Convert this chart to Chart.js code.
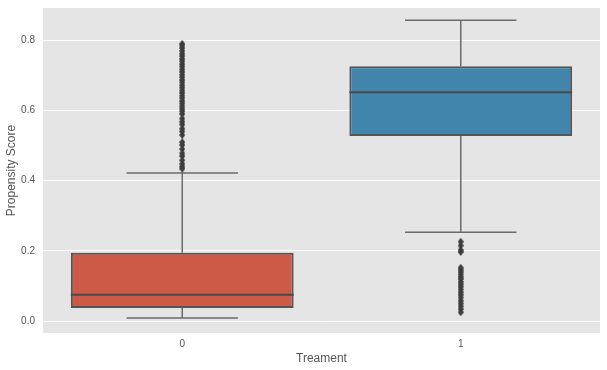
<!DOCTYPE html>
<html>
<head>
<meta charset="utf-8">
<script src="https://cdn.jsdelivr.net/npm/chart.js@4.4.0/dist/chart.umd.min.js"></script>
<style>
  html, body { margin: 0; padding: 0; background: #fff; }
  #wrap { width: 607px; height: 370px; }
</style>
</head>
<body>
<div id="wrap"><canvas id="chartBox"></canvas></div>
<script>
// Categories and box statistics
const categories = ['0', '1'];
const q1 = [0.037, 0.527];
const median = [0.075, 0.652];
const q3 = [0.195, 0.726];
const whiskerLow = [0.009, 0.253];
const whiskerHigh = [0.422, 0.857];
const boxColors = ['#cc5a47', '#4185ac'];

// Outliers per category
const outliers0 = [0.79, 0.785, 0.778, 0.77, 0.762, 0.755, 0.747, 0.74, 0.732, 0.725, 0.717,
  0.71, 0.702, 0.695, 0.687, 0.68, 0.672, 0.665, 0.657, 0.65, 0.642, 0.635, 0.627, 0.62,
  0.612, 0.605, 0.598, 0.59, 0.577, 0.568, 0.56, 0.548, 0.54, 0.53, 0.51, 0.502, 0.49,
  0.478, 0.47, 0.458, 0.448, 0.44, 0.434];
const outliers1 = [0.226, 0.215, 0.202, 0.197, 0.152, 0.146, 0.14, 0.133, 0.126, 0.12,
  0.112, 0.105, 0.098, 0.09, 0.082, 0.075, 0.067, 0.058, 0.05, 0.042, 0.034, 0.025];

const yTicks = [0.0, 0.2, 0.4, 0.6, 0.8];

const lineColor = '#4a4a4a';
const whiskerColor = '#6b6b6b';

// thin diamond marker like matplotlib 'd'
function makeDiamond() {
    const c = document.createElement('canvas');
    c.width = 6; c.height = 8;
    const g = c.getContext('2d');
    g.fillStyle = '#3d3d3d';
    g.beginPath();
    g.moveTo(3, 0);
    g.lineTo(6, 4);
    g.lineTo(3, 8);
    g.lineTo(0, 4);
    g.closePath();
    g.fill();
    return c;
}

// whiskers and median lines drawn with the chart's scales
const boxExtras = {
    id: 'boxExtras',
    beforeDatasetsDraw(chart) {
        const ctx = chart.ctx;
        const xs = chart.scales.x, ys = chart.scales.y;
        const meta = chart.getDatasetMeta(0);
        ctx.save();
        ctx.strokeStyle = whiskerColor;
        ctx.lineWidth = 1.5;
        categories.forEach((c, i) => {
            const bar = meta.data[i];
            const cx = xs.getPixelForValue(i);
            const half = bar.width / 4;
            const yLo = ys.getPixelForValue(whiskerLow[i]);
            const yHi = ys.getPixelForValue(whiskerHigh[i]);
            ctx.beginPath();
            ctx.moveTo(cx, ys.getPixelForValue(q1[i]));
            ctx.lineTo(cx, yLo);
            ctx.moveTo(cx, ys.getPixelForValue(q3[i]));
            ctx.lineTo(cx, yHi);
            ctx.moveTo(cx - half, yLo);
            ctx.lineTo(cx + half, yLo);
            ctx.moveTo(cx - half, yHi);
            ctx.lineTo(cx + half, yHi);
            ctx.stroke();
        });
        ctx.restore();
    },
    afterDatasetsDraw(chart) {
        const ctx = chart.ctx;
        const ys = chart.scales.y;
        const meta = chart.getDatasetMeta(0);
        ctx.save();
        ctx.strokeStyle = lineColor;
        ctx.lineWidth = 2;
        categories.forEach((c, i) => {
            const bar = meta.data[i];
            const y = ys.getPixelForValue(median[i]);
            ctx.beginPath();
            ctx.moveTo(bar.x - bar.width / 2, y);
            ctx.lineTo(bar.x + bar.width / 2, y);
            ctx.stroke();
        });
        ctx.restore();
    }
};

// plot background
const plotBg = {
    id: 'plotBg',
    beforeDraw(chart) {
        const { ctx, chartArea: a } = chart;
        ctx.save();
        ctx.fillStyle = '#e5e5e5';
        ctx.fillRect(a.left, a.top, a.right - a.left, a.bottom - a.top);
        ctx.restore();
    }
};

function initBoxChart() {
    const ctx = document.getElementById('chartBox');
    const diamond = makeDiamond();
    const fontFamily = '"Liberation Sans", Arial, sans-serif';

    new Chart(ctx, {
        data: {
            labels: categories,
            datasets: [{
                type: 'bar',
                data: categories.map((c, i) => [q1[i], q3[i]]),
                backgroundColor: boxColors,
                borderColor: '#555555',
                borderWidth: 2,
                borderSkipped: false,
                barPercentage: 0.8,
                categoryPercentage: 1.0,
                order: 2
            }, {
                type: 'line',
                data: outliers0.map(v => ({ x: categories[0], y: v }))
                    .concat(outliers1.map(v => ({ x: categories[1], y: v }))),
                showLine: false,
                pointStyle: diamond,
                pointRadius: 4,
                order: 1
            }]
        },
        options: {
            responsive: true,
            maintainAspectRatio: false,
            animation: false,
            layout: { padding: { top: 8, right: 7, left: 0, bottom: 0 } },
            plugins: {
                legend: { display: false },
                tooltip: { enabled: false }
            },
            scales: {
                x: {
                    grid: { display: false, drawTicks: false },
                    border: { display: false },
                    ticks: { color: '#555', font: { family: fontFamily, size: 10 }, padding: 5 },
                    title: {
                        display: true, text: 'Treament', color: '#555',
                        font: { family: fontFamily, size: 12 }, padding: { top: 2, bottom: 4 }
                    },
                    afterFit(scale) {
                        scale.height = 37;
                        scale.paddingLeft = 0;
                        scale.paddingRight = 0;
                    }
                },
                y: {
                    min: -0.034,
                    max: 0.892,
                    grid: { color: '#ffffff', lineWidth: 1, drawTicks: false },
                    border: { display: false },
                    ticks: {
                        color: '#555', font: { family: fontFamily, size: 10 }, padding: 8,
                        callback: v => v.toFixed(1)
                    },
                    afterBuildTicks(scale) { scale.ticks = yTicks.map(v => ({ value: v })); },
                    title: {
                        display: true, text: 'Propensity Score', color: '#555',
                        font: { family: fontFamily, size: 12 }, padding: 4
                    },
                    afterFit(scale) {
                        scale.width = 43;
                        scale.paddingTop = 0;
                        scale.paddingBottom = 0;
                    }
                }
            }
        },
        plugins: [plotBg, boxExtras]
    });
}

document.addEventListener('DOMContentLoaded', initBoxChart);
</script>
</body>
</html>
